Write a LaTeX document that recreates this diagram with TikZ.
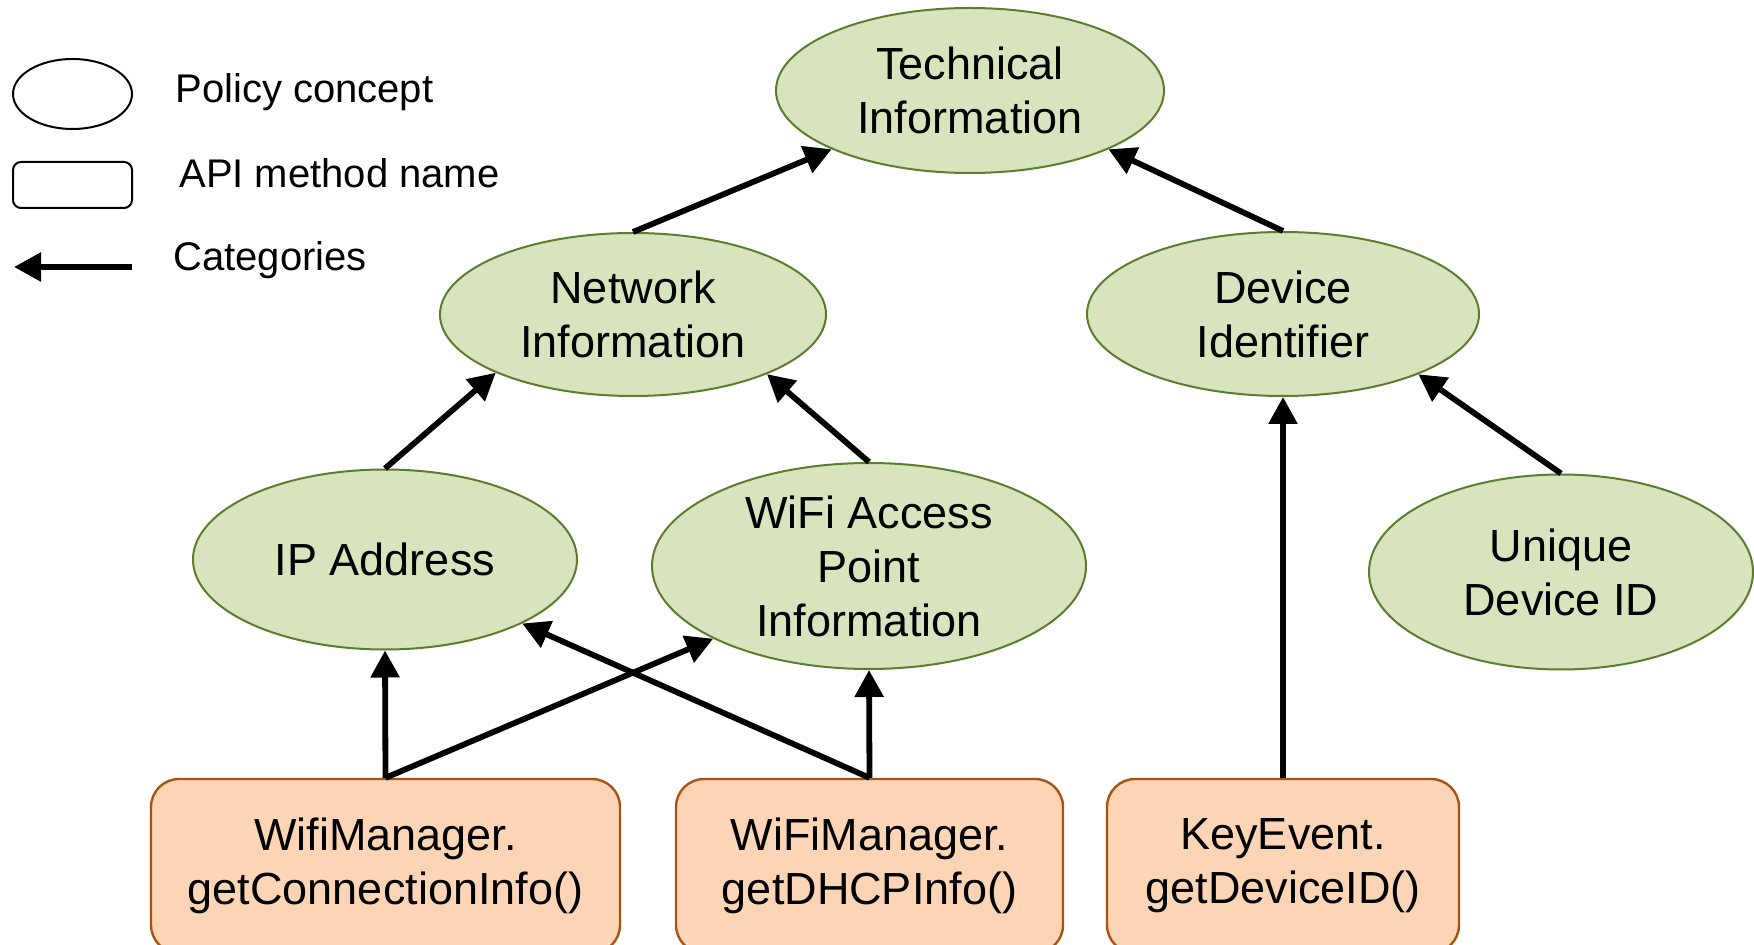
\documentclass[tikz,border=0pt]{standalone}
\usepackage{fontspec}
\setmainfont{Liberation Sans}
\usetikzlibrary{arrows.meta,shapes.geometric}

\definecolor{conceptfill}{HTML}{D7E4BD}
\definecolor{conceptline}{HTML}{5A7D2E}
\definecolor{apifill}{HTML}{FBD5B5}
\definecolor{apiline}{HTML}{A65414}

\tikzset{
  concept/.style={ellipse, draw=conceptline, fill=conceptfill, line width=1pt,
    inner sep=-10pt, align=center, font=\fontsize{22.5pt}{27pt}\selectfont},
  api/.style={rectangle, rounded corners=14pt, draw=apiline, fill=apifill,
    line width=1.2pt, inner sep=0pt, align=center, minimum height=87pt,
    font=\fontsize{22.5pt}{27pt}\selectfont},
  cat/.style={-{Triangle[length=13.5pt,width=14pt]}, line width=2.9pt},
  legendtext/.style={anchor=base west, inner sep=0pt,
    font=\fontsize{20pt}{24pt}\selectfont}
}

\begin{document}
\begin{tikzpicture}[x=0.5pt,y=-0.5pt]
\useasboundingbox (0,0) rectangle (1754,945);

% legend
\node[ellipse, draw, line width=1pt, minimum width=59.5pt, minimum height=35pt,
  inner sep=0pt] (legconcept) at (72.5,94) {};
\node[draw, rounded corners=4pt, line width=1pt, minimum width=59.5pt,
  minimum height=23pt, inner sep=0pt] (legapi) at (72.5,185) {};
\coordinate (legfrom) at (132,267);
\coordinate (legto) at (14,267);
\draw[cat] (legfrom) -- (legto);
\node[legendtext] (lt1) at (175,103) {Policy concept};
\node[legendtext] (lt2) at (179,188) {API method name};
\node[legendtext] (lt3) at (173,271) {Categories};

% policy concepts
\node[concept, minimum width=194pt, minimum height=82.5pt] (tech) at (970,90.5)
  {Technical\\Information};
\node[concept, minimum width=193pt, minimum height=81.5pt] (net) at (633,314.5)
  {Network\\Information};
\node[concept, minimum width=196pt, minimum height=82pt] (dev) at (1283,314)
  {Device\\Identifier};
\node[concept, minimum width=192pt, minimum height=90pt] (ip) at (385,559.5)
  {IP Address};
\node[concept, minimum width=217pt, minimum height=103pt] (ap) at (869,566)
  {WiFi Access\\Point\\Information};
\node[concept, minimum width=192pt, minimum height=97.5pt] (uid) at (1561,572)
  {Unique\\Device ID};

% API methods (their lower edge runs past the page)
\node[api, minimum width=234.5pt] (b1) at (385.5,866)
  {WifiManager.\\getConnectionInfo()};
\node[api, minimum width=193.5pt] (b2) at (869.5,866)
  {WiFiManager.\\getDHCPInfo()};
\node[api, minimum width=176pt] (b3) at (1283,866)
  {KeyEvent.\\getDeviceID()};

% category links
\draw[cat] (net.north) -- (tech.203);
\draw[cat] (dev.north) -- (tech.337);
\draw[cat] (ip.north) -- (net.203.5);
\draw[cat] (ap.north) -- (net.336.7);
\draw[cat] (uid.north) -- (dev.336.6);
\draw[cat] (b1.north) -- (ip.south);
\draw[cat] (b1.north) -- (ap.205.4);
\draw[cat] (b2.north) -- (ip.335.1);
\draw[cat] (b2.north) -- (ap.south);
\draw[cat] (b3.north) -- (dev.south);
\end{tikzpicture}
\end{document}
